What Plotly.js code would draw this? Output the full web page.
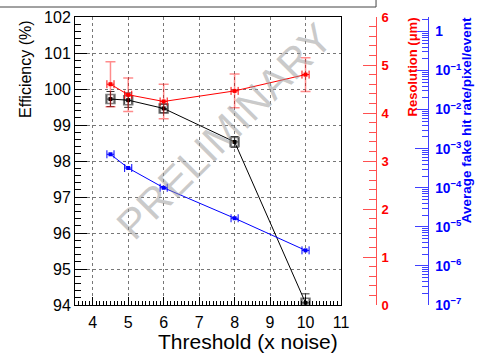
<!DOCTYPE html>
<html>
<head>
<meta charset="utf-8">
<script src="https://cdn.plot.ly/plotly-3.0.1.min.js"></script>
<style>html,body{margin:0;padding:0;background:#fff;}#chart{width:477px;height:353px;}</style>
</head>
<body>
<div id="chart"></div>
<script>
// Data
const threshold = [4.5, 5, 6, 8, 10];
const thresholdErr = [0.1, 0.1, 0.1, 0.1, 0.1];
const efficiency = [99.72, 99.69, 99.46, 98.53, 94.06];
const efficiencyErr = [0.21, 0.2, 0.12, 0.15, 0.25];
const resolution = [4.6, 4.38, 4.24, 4.46, 4.8];
const resolutionErr = [0.47, 0.35, 0.36, 0.35, 0.35];
const fakeRate = [7.2e-4, 3.2e-4, 1.0e-4, 1.66e-5, 2.5e-6];

const FONT = 'Liberation Sans, Arial, Helvetica, sans-serif';

const traces = [
  {
    x: threshold, y: efficiency, type: 'scatter', mode: 'markers',
    xaxis: 'x', yaxis: 'y',
    marker: {symbol: 'square-open', size: 9, color: 'rgba(90,90,90,0.8)', line: {width: 1.5}},
    hoverinfo: 'skip', showlegend: false
  },
  {
    x: threshold, y: efficiency, type: 'scatter', mode: 'lines+markers',
    xaxis: 'x', yaxis: 'y',
    line: {color: '#000', width: 1},
    marker: {symbol: 'square', size: 4, color: '#000'},
    error_y: {type: 'data', array: efficiencyErr, visible: true, color: '#333', thickness: 1, width: 4},
    error_x: {type: 'data', array: thresholdErr, visible: true, color: '#333', thickness: 1, width: 4},
    showlegend: false
  },
  {
    x: threshold, y: resolution, type: 'scatter', mode: 'lines+markers',
    xaxis: 'x', yaxis: 'y2',
    line: {color: '#ff0000', width: 1},
    marker: {symbol: 'square', size: 4, color: '#ff0000'},
    error_y: {type: 'data', array: resolutionErr, visible: true, color: 'rgba(255,0,0,0.45)', thickness: 1.5, width: 5},
    error_x: {type: 'data', array: thresholdErr, visible: true, color: '#ff0000', thickness: 1, width: 4},
    showlegend: false
  },
  {
    x: threshold, y: fakeRate, type: 'scatter', mode: 'lines+markers',
    xaxis: 'x', yaxis: 'y3',
    line: {color: '#0000ff', width: 1},
    marker: {symbol: 'square', size: 4, color: '#0000ff'},
    error_x: {type: 'data', array: thresholdErr, visible: true, color: '#0000ff', thickness: 1, width: 4},
    showlegend: false
  }
];

const layout = {
  width: 477, height: 353,
  margin: {l: 75, r: 47, t: 17, b: 48, pad: 0},
  paper_bgcolor: '#fff', plot_bgcolor: '#fff',
  font: {family: FONT, color: '#000'},
  showlegend: false,
  xaxis: {
    domain: [0, 0.7493],
    range: [3.5, 11], tickmode: 'linear', tick0: 4, dtick: 1,
    ticks: 'inside', ticklen: 8, tickcolor: '#000', tickwidth: 1,
    minor: {dtick: 0.1, tick0: 4, ticks: 'inside', ticklen: 4, tickcolor: '#000', showgrid: false},
    showline: true, linecolor: '#000', linewidth: 1, mirror: true,
    showgrid: true, gridcolor: '#777', griddash: 'dot', gridwidth: 1,
    zeroline: false,
    tickfont: {size: 16, family: FONT, color: '#000'},
    ticklabelstandoff: 3
  },
  yaxis: {
    range: [94, 102], tickmode: 'linear', tick0: 94, dtick: 1,
    ticks: 'inside', ticklen: 12, tickcolor: '#000',
    minor: {dtick: 0.2, tick0: 94, ticks: 'inside', ticklen: 6, tickcolor: '#000', showgrid: false},
    showline: true, linecolor: '#000', linewidth: 1, mirror: true,
    showgrid: true, gridcolor: '#777', griddash: 'dot', gridwidth: 1,
    zeroline: false,
    tickfont: {size: 16, family: FONT, color: '#000'}
  },
  yaxis2: {
    overlaying: 'y', side: 'right', anchor: 'free', position: 0.8479,
    range: [0, 6], tickmode: 'linear', tick0: 0, dtick: 1,
    ticks: 'inside', ticklen: 13, tickcolor: '#ff5050',
    minor: {dtick: 0.2, tick0: 0, ticks: 'inside', ticklen: 7, tickcolor: '#ff5050', showgrid: false},
    showline: true, linecolor: '#ff5050', linewidth: 1,
    showgrid: false, zeroline: false,
    tickfont: {size: 13, family: FONT, color: '#ff0000', weight: 'bold'},
    ticklabelstandoff: 2
  },
  yaxis3: {
    overlaying: 'y', side: 'right', anchor: 'free', position: 0.9944,
    type: 'log', range: [-7, 0.37], dtick: 1, exponentformat: 'power',
    ticks: 'inside', ticklen: 13, tickcolor: '#4040ff',
    minor: {dtick: 'D1', ticks: 'inside', ticklen: 6, tickcolor: '#4040ff', showgrid: false},
    showline: true, linecolor: '#4040ff', linewidth: 1,
    showgrid: false, zeroline: false,
    tickfont: {size: 11, family: FONT, color: '#0000ff', weight: 'bold'},
    ticklabelstandoff: 4
  },
  shapes: [
    {type: 'rect', xref: 'paper', yref: 'paper', x0: -0.3, x1: 0.848, y0: 1.0347, y1: 1.3,
     line: {color: '#444', width: 1}, fillcolor: 'rgba(0,0,0,0)', layer: 'above'}
  ],
  annotations: [
    {text: 'PRELIMINARY', xref: 'paper', yref: 'paper', x: 0.4197, y: 0.604,
     xanchor: 'center', yanchor: 'middle', showarrow: false, textangle: -45,
     font: {family: FONT, size: 42, color: 'rgba(150,150,150,0.5)'}},
    {text: 'Efficiency (%)', xref: 'paper', yref: 'paper', x: -0.141, y: 0.9965,
     xanchor: 'center', yanchor: 'top', showarrow: false, textangle: -90,
     font: {family: FONT, size: 16, color: '#000'}},
    {text: 'Threshold (x noise)', xref: 'paper', yref: 'paper', x: 0.7465, y: -0.127,
     xanchor: 'right', yanchor: 'middle', showarrow: false,
     font: {family: FONT, size: 21, color: '#000'}},
    {text: 'Resolution (\u03bcm)', xref: 'paper', yref: 'paper', x: 0.952, y: 1.007,
     xanchor: 'center', yanchor: 'top', showarrow: false, textangle: -90,
     font: {family: FONT, size: 13, color: '#ff0000', weight: 'bold'}},
    {text: 'Average fake hit rate/pixel/event', xref: 'paper', yref: 'paper', x: 1.105, y: 1.007,
     xanchor: 'center', yanchor: 'top', showarrow: false, textangle: -90,
     font: {family: FONT, size: 13.5, color: '#0000ff', weight: 'bold'}}
  ]
};

Plotly.newPlot('chart', traces, layout, {displayModeBar: false, staticPlot: true});
</script>
</body>
</html>
